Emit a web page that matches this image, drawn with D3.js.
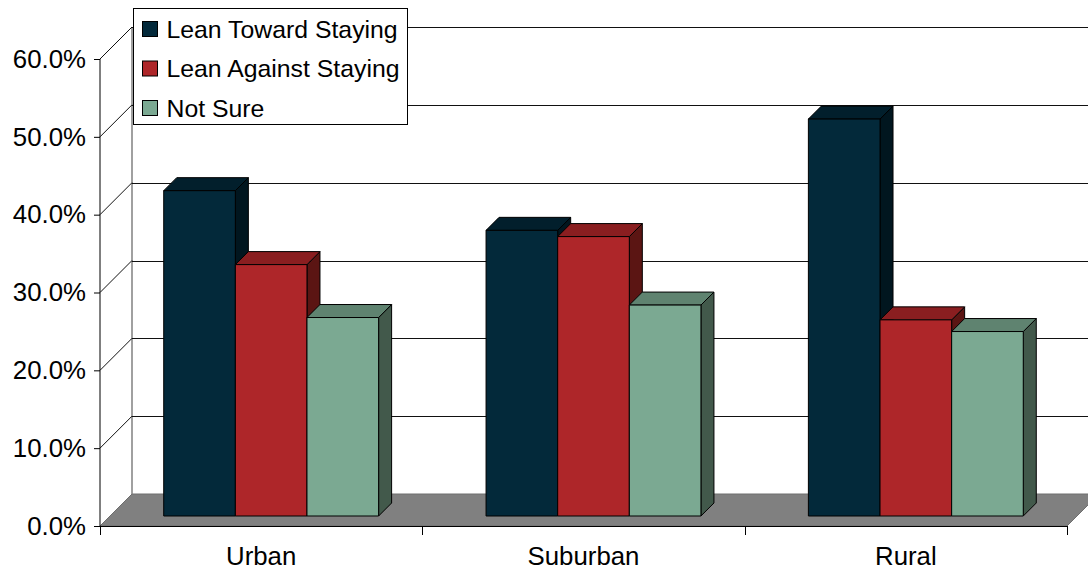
<!DOCTYPE html>
<html>
<head>
<meta charset="utf-8">
<script src="https://cdn.jsdelivr.net/npm/d3@7/dist/d3.min.js"></script>
<style>
  html, body { margin: 0; padding: 0; background: #fff; }
  svg { display: block; }
  text { font-family: "Liberation Sans", Arial, sans-serif; fill: #000; }
</style>
</head>
<body>
<svg id="chart" width="1088" height="571"></svg>
<script>
// Survey shares by area type
const categories = ["Urban", "Suburban", "Rural"];
const seriesNames = ["Lean Toward Staying", "Lean Against Staying", "Not Sure"];
const leanToward = [0.418, 0.367, 0.510];
const leanAgainst = [0.323, 0.359, 0.252];
const notSure = [0.255, 0.271, 0.237];
const yTicks = [0, 0.1, 0.2, 0.3, 0.4, 0.5, 0.6];

const values = [leanToward, leanAgainst, notSure];

// face colours: front, top, side
const palette = [
  { front: "#03293a", top: "#021f2c", side: "#01161f" },
  { front: "#ae2629", top: "#8a1e20", side: "#5b1513" },
  { front: "#7ba992", top: "#5f8370", side: "#42594b" }
];

const svg = d3.select("#chart");

// oblique projection: depth d shifts a point right by d and up by d
const wallDepth = 32;
const barFront = 10;
const barDepth = 13;
const plotLeft = 100, plotRight = 1067, plotBase = 526, plotTop = 59;

const x0 = d3.scaleBand().domain(categories).range([plotLeft, plotRight]).paddingInner(0).paddingOuter(0);
const x1 = d3.scaleBand().domain(seriesNames).range([0, x0.bandwidth()]).paddingInner(0).paddingOuter(0.75);
const y = d3.scaleLinear().domain([0, 0.6]).range([plotBase, plotTop]);

const P = (x, yy, d) => [x + d, yy - d];
const poly = pts => "M" + pts.map(p => p.join(",")).join("L") + "Z";

// floor
svg.append("path")
  .attr("d", poly([P(plotLeft, plotBase, 0), P(plotRight, plotBase, 0), P(plotRight, plotBase, wallDepth), P(plotLeft, plotBase, wallDepth)]))
  .attr("fill", "#808080")
  .attr("stroke", "#6e6e6e")
  .attr("stroke-width", 1);

// back wall left edge
svg.append("line")
  .attr("x1", plotLeft + wallDepth).attr("x2", plotLeft + wallDepth)
  .attr("y1", y(0) - wallDepth).attr("y2", y(0.6) - wallDepth)
  .attr("stroke", "#808080").attr("stroke-width", 1.5);

// gridlines on the back wall and side wall
const grid = svg.append("g").attr("stroke", "#111").attr("stroke-width", 1).attr("fill", "none");
yTicks.filter(v => v > 0).forEach(v => {
  grid.append("line")
    .attr("x1", plotLeft + wallDepth).attr("x2", plotRight + wallDepth)
    .attr("y1", Math.round(y(v) - wallDepth) + 0.5).attr("y2", Math.round(y(v) - wallDepth) + 0.5);
  grid.append("line")
    .attr("x1", plotLeft).attr("y1", y(v))
    .attr("x2", plotLeft + wallDepth).attr("y2", y(v) - wallDepth);
});

// 3D columns
const bars = svg.append("g").attr("stroke", "#000").attr("stroke-width", 1).attr("stroke-linejoin", "round");
categories.forEach((cat, ci) => {
  seriesNames.forEach((s, si) => {
    const v = values[si][ci];
    const xl = x0(cat) + x1(s);
    const xr = xl + x1.bandwidth();
    const yt = y(v), yb = y(0);
    const c = palette[si];
    const g = bars.append("g");
    // side face
    g.append("path")
      .attr("d", poly([P(xr, yb, barFront), P(xr, yb, barFront + barDepth), P(xr, yt, barFront + barDepth), P(xr, yt, barFront)]))
      .attr("fill", c.side);
    // top face
    g.append("path")
      .attr("d", poly([P(xl, yt, barFront), P(xr, yt, barFront), P(xr, yt, barFront + barDepth), P(xl, yt, barFront + barDepth)]))
      .attr("fill", c.top);
    // front face
    g.append("path")
      .attr("d", poly([P(xl, yb, barFront), P(xr, yb, barFront), P(xr, yt, barFront), P(xl, yt, barFront)]))
      .attr("fill", c.front);
  });
});

// value axis
const yAxis = svg.append("g")
  .attr("transform", `translate(${plotLeft},0)`)
  .call(d3.axisLeft(y).tickValues(yTicks).tickFormat(d3.format(".1%")).tickSize(6).tickPadding(8));
yAxis.select(".domain").attr("stroke", "#000").attr("d", `M0,${y(0.6)}V${plotBase}`);
yAxis.selectAll(".tick line").attr("stroke", "#000");
yAxis.selectAll(".tick text").style("font-size", "25.8px").attr("fill", "#000");

// category axis
svg.append("line")
  .attr("x1", plotLeft).attr("x2", plotRight).attr("y1", plotBase + 0.5).attr("y2", plotBase + 0.5)
  .attr("stroke", "#000");
const bounds = categories.map(c => x0(c)).concat([plotRight]);
svg.append("g").selectAll("line").data(bounds).join("line")
  .attr("x1", d => Math.round(d) + 0.5).attr("x2", d => Math.round(d) + 0.5)
  .attr("y1", plotBase).attr("y2", plotBase + 9)
  .attr("stroke", "#000");
const xAxis = svg.append("g")
  .attr("transform", `translate(0,${plotBase})`)
  .call(d3.axisBottom(x0).tickSize(0).tickPadding(21));
xAxis.select(".domain").remove();
xAxis.selectAll(".tick text").style("font-size", "25.8px").attr("fill", "#000");

// legend
const legend = svg.append("g").attr("transform", "translate(133.5,8.5)");
legend.append("rect").attr("width", 274).attr("height", 116).attr("fill", "#fff").attr("stroke", "#000");
const rowY = d3.scalePoint().domain(seriesNames).range([20.5, 99.5]);
const items = legend.selectAll("g.item").data(seriesNames).join("g")
  .attr("class", "item")
  .attr("transform", d => `translate(0,${rowY(d)})`);
items.append("rect")
  .attr("x", 9).attr("y", -7.5).attr("width", 15).attr("height", 15)
  .attr("fill", (d, i) => palette[i].front).attr("stroke", "#000");
items.append("text")
  .attr("x", 33).attr("y", 8.8)
  .style("font-size", "24.8px")
  .text(d => d);
</script>
</body>
</html>
